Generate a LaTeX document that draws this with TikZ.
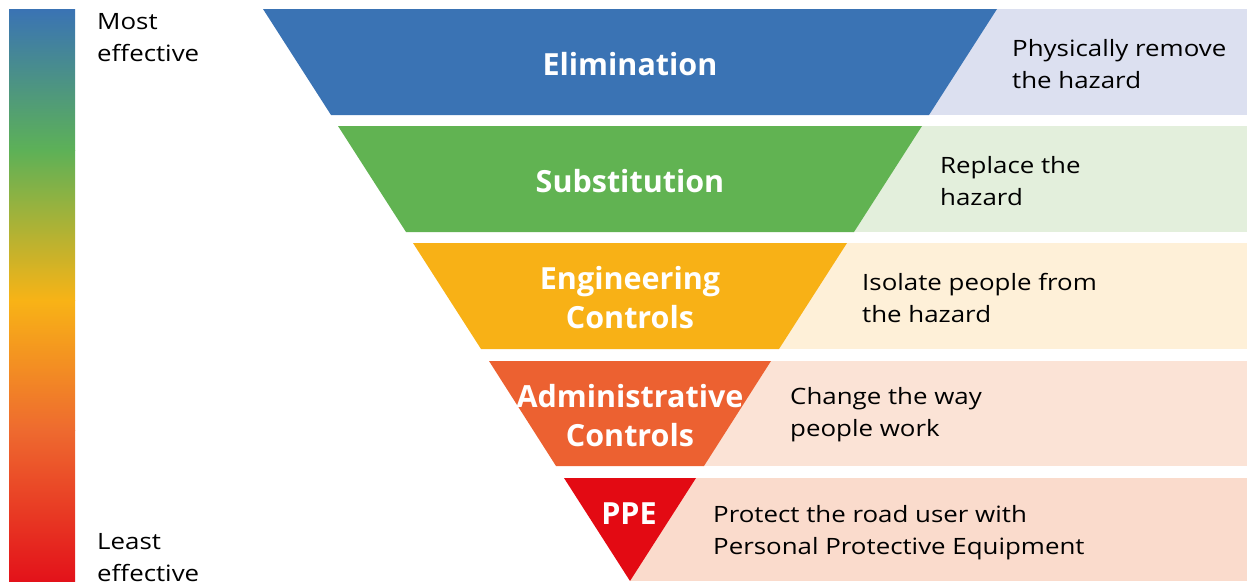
\documentclass[tikz,border=0pt]{standalone}
\usepackage{fontspec}
\setmainfont{Open Sans}
\newfontfamily\descfont{Open Sans}[FakeStretch=1.15]
\definecolor{cBlue}{HTML}{3A73B4}
\definecolor{cGreen}{HTML}{61B352}
\definecolor{cYellow}{HTML}{F8B116}
\definecolor{cOrange}{HTML}{EC6131}
\definecolor{cRed}{HTML}{E30A13}
\definecolor{lBlue}{HTML}{DCE0F0}
\definecolor{lGreen}{HTML}{E3EFDC}
\definecolor{lYellow}{HTML}{FEF0D8}
\definecolor{lOrange}{HTML}{FBE3D6}
\definecolor{lRed}{HTML}{FADBCC}
\definecolor{gGreen}{HTML}{5DB157}
\definecolor{gYellow}{HTML}{F8B316}
\definecolor{gOrange}{HTML}{EE6A2F}
\definecolor{gRed}{HTML}{E3121A}
\tikzset{
  title/.style={text=white, font=\fontsize{30.5}{39}\selectfont\bfseries, align=center, inner sep=0pt},
  desc/.style={text=black, font=\descfont\fontsize{22.5}{32}\selectfont, align=left, anchor=west, inner sep=0pt},
  side/.style={text=black, font=\descfont\fontsize{22.5}{32}\selectfont, align=left, anchor=north west, inner sep=0pt},
}
\begin{document}
\begin{tikzpicture}[x=1pt,y=-1pt]
\useasboundingbox (0,0) rectangle (1247,581);
% gradient bar
\shade[top color=cBlue, bottom color=gGreen] (9,9) rectangle (75,150.5);
\shade[top color=gGreen, bottom color=gYellow] (9,150) rectangle (75,300.5);
\shade[top color=gYellow, bottom color=gOrange] (9,300) rectangle (75,430.5);
\shade[top color=gOrange, bottom color=gRed] (9,430) rectangle (75,581);
\node[side] (most) at (97,13) {Most\\effective};
\node[side] (least) at (97,533) {Least\\effective};
% light panels
\fill[lBlue] (630,9) rectangle (1247,115);
\fill[lGreen] (630,126) rectangle (1247,232);
\fill[lYellow] (630,243) rectangle (1247,349);
\fill[lOrange] (630,361) rectangle (1247,466);
\fill[lRed] (630,478) rectangle (1247,581);
% bands
\fill[cBlue] (263,9) -- (997,9) -- (929,115) -- (331,115) -- cycle;
\fill[cGreen] (338,126) -- (922,126) -- (854,232) -- (406,232) -- cycle;
\fill[cYellow] (413,243) -- (847,243) -- (779,349) -- (481,349) -- cycle;
\fill[cOrange] (489,361) -- (771,361) -- (704,466) -- (556,466) -- cycle;
\fill[cRed] (564,478) -- (696,478) -- (630,581) -- cycle;
% titles
\node[title] (t1) at (630,64) {Elimination};
\node[title] (t2) at (630,181) {Substitution};
\node[title] (t3) at (630,298) {Engineering\\Controls};
\node[title] (t4) at (630,416) {Administrative\\Controls};
\node[title] (t5) at (629,514) {PPE};
% descriptions
\node[desc] (d1) at (1012,64) {Physically remove\\the hazard};
\node[desc] (d2) at (940,181) {Replace the\\hazard};
\node[desc] (d3) at (862,298) {Isolate people from\\the hazard};
\node[desc] (d4) at (790,415) {Change the way\\people work};
\node[desc] (d5) at (713,533) {Protect the road user with\\Personal Protective Equipment};
\end{tikzpicture}
\end{document}
